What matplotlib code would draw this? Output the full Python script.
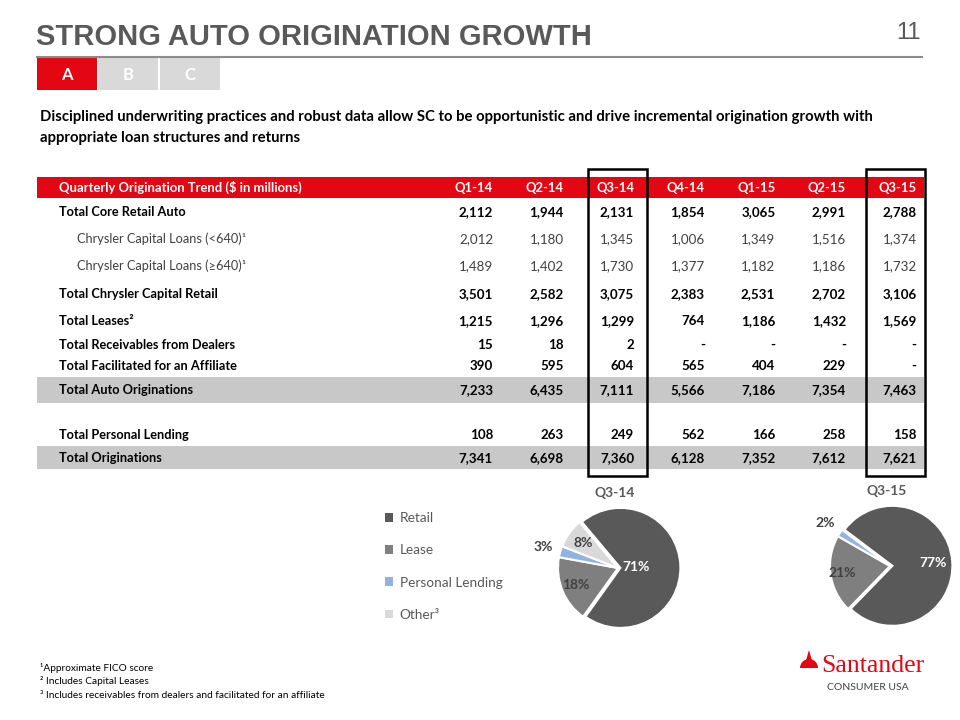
import matplotlib
matplotlib.use("Agg")
import numpy as np
import matplotlib.pyplot as plt
from matplotlib.patches import Rectangle, Patch, Wedge, Polygon

# ------------------- Dados -------------------
quarters = ["Q1-14", "Q2-14", "Q3-14", "Q4-14", "Q1-15", "Q2-15", "Q3-15"]
row_labels = ["Total Core Retail Auto",
              "Chrysler Capital Loans (<640)¹",
              "Chrysler Capital Loans (≥640)¹",
              "Total Chrysler Capital Retail",
              "Total Leases²",
              "Total Receivables from Dealers",
              "Total Facilitated for an Affiliate",
              "Total Auto Originations",
              "Total Personal Lending",
              "Total Originations"]
core_retail = ["2,112", "1,944", "2,131", "1,854", "3,065", "2,991", "2,788"]
chrysler_lt640 = ["2,012", "1,180", "1,345", "1,006", "1,349", "1,516", "1,374"]
chrysler_ge640 = ["1,489", "1,402", "1,730", "1,377", "1,182", "1,186", "1,732"]
chrysler_total = ["3,501", "2,582", "3,075", "2,383", "2,531", "2,702", "3,106"]
leases = ["1,215", "1,296", "1,299", "764", "1,186", "1,432", "1,569"]
receivables = ["15", "18", "2", "-", "-", "-", "-"]
facilitated = ["390", "595", "604", "565", "404", "229", "-"]
auto_total = ["7,233", "6,435", "7,111", "5,566", "7,186", "7,354", "7,463"]
personal = ["108", "263", "249", "562", "166", "258", "158"]
orig_total = ["7,341", "6,698", "7,360", "6,128", "7,352", "7,612", "7,621"]
row_values = [core_retail, chrysler_lt640, chrysler_ge640, chrysler_total, leases,
              receivables, facilitated, auto_total, personal, orig_total]

pie_labels = ["Retail", "Lease", "Personal Lending", "Other³"]
pie_q314 = [71, 18, 3, 8]
pie_q315 = [77, 21, 2, 0]

# ------------------- Estilo -------------------
VERMELHO = "#E30613"
CINZA_TITULO = "#595959"
CINZA_FAIXA = "#C8C8C8"
cores_pie = ["#595959", "#7F7F7F", "#8EB4E3", "#D9D9D9"]
fonte = ["Lato", "DejaVu Sans"]
fonte_titulo = ["Liberation Sans", "DejaVu Sans"]

fig = plt.figure(figsize=(9.6, 7.2), dpi=100)
ax = fig.add_axes([0, 0, 1, 1])
ax.set_xlim(0, 960)
ax.set_ylim(720, 0)
ax.axis("off")

# ------------------- Cabeçalho -------------------
ax.text(36, 37, "STRONG AUTO ORIGINATION GROWTH", family=fonte_titulo, fontweight="bold",
        fontsize=21, color=CINZA_TITULO, va="center", ha="left")
ax.text(921, 33, "11", family=fonte_titulo, fontsize=17, color=CINZA_TITULO, va="center", ha="right")
ax.plot([37, 922], [57, 57], color="#8C8C8C", lw=1.5)

tabs = [("A", 37, VERMELHO), ("B", 98, "#D9D9D9"), ("C", 160, "#D9D9D9")]
for letra, x0, cor in tabs:
    ax.add_patch(Rectangle((x0, 58), 60, 32, facecolor=cor, edgecolor="none"))
    ax.text(x0 + 30, 74.5, letra, family=fonte, fontweight="bold", fontsize=12, color="white",
            ha="center", va="center")

ax.text(40, 117, "Disciplined underwriting practices and robust data allow SC to be opportunistic and drive "
        "incremental origination growth with", family=fonte, fontweight="bold", fontsize=10.75,
        color="black", ha="left", va="center")
ax.text(40, 138, "appropriate loan structures and returns", family=fonte, fontweight="bold",
        fontsize=10.75, color="black", ha="left", va="center")

# ------------------- Tabela -------------------
x_esq, x_dir = 37, 924
col_x = [493 + i * 70.6 for i in range(len(quarters))]
row_y = [212, 239, 266, 294, 321, 345, 366, 390, 435, 458]
bold_rows = [True, False, False, True, True, True, True, True, True, True]
faixas = {7: (377, 26), 9: (446, 23)}

ax.add_patch(Rectangle((x_esq, 177), x_dir - x_esq, 21, facecolor=VERMELHO, edgecolor="none"))
ax.text(59, 187.5, "Quarterly Origination Trend ($ in millions)", family=fonte, fontweight="bold",
        fontsize=9.4, color="white", ha="left", va="center")
for q, x in zip(quarters, col_x):
    ax.text(x, 187.5, q, family=fonte, fontweight="bold", fontsize=9.4, color="white",
            ha="right", va="center")

for i, (rotulo, valores, y) in enumerate(zip(row_labels, row_values, row_y)):
    if i in faixas:
        y0, h = faixas[i]
        ax.add_patch(Rectangle((x_esq, y0), x_dir - x_esq, h, facecolor=CINZA_FAIXA, edgecolor="none"))
    peso = "bold" if bold_rows[i] else "normal"
    cor = "black" if bold_rows[i] else "#404040"
    x_rot = 59 if bold_rows[i] else 77
    ax.text(x_rot, y, rotulo, family=fonte, fontweight=peso, fontsize=9.2, color=cor,
            ha="left", va="center")
    for v, x in zip(valores, col_x):
        ax.text(x, y, v, family=fonte, fontweight=peso, fontsize=9.6, color=cor,
                ha="right", va="center")

# caixas de destaque Q3-14 e Q3-15
for x0, x1 in [(588, 647), (866, 925)]:
    ax.add_patch(Rectangle((x0, 169), x1 - x0, 307, facecolor="none", edgecolor="black", lw=1.8))

# ------------------- Pizzas -------------------
def desenha_pizza(cx, cy, raio, valores, titulo, start, dist, cores_txt):
    lado = raio * 2.3
    pax = fig.add_axes([(cx - lado / 2) / 960, 1 - (cy + lado / 2) / 720, lado / 960, lado / 720])
    vals = [v for v in valores if v > 0]
    cores = [c for v, c in zip(valores, cores_pie) if v > 0]
    explode = [0.04] + [0] * (len(vals) - 1)
    wedges, _ = pax.pie(vals, colors=cores, startangle=start, counterclock=False, explode=explode,
                        wedgeprops=dict(edgecolor="white", linewidth=1.5))
    for w, v, d, ct in zip(wedges, vals, dist, cores_txt):
        ang = np.deg2rad((w.theta1 + w.theta2) / 2)
        pax.text(d * np.cos(ang), d * np.sin(ang), f"{v}%", family=fonte, fontweight="bold",
                 fontsize=10, color=ct, ha="center", va="center")
    pax.set_xlim(-1.15, 1.15)
    pax.set_ylim(-1.15, 1.15)
    pax.set_aspect("equal")
    pax.axis("off")
    ax.text(cx - 3, cy - 75, titulo, family=fonte, fontweight="bold", fontsize=10,
            color=CINZA_TITULO, ha="center", va="center")

desenha_pizza(618, 568, 60, pie_q314, "Q3-14", 130, [0.3, 0.75, 1.3, 0.72],
              ["white", "#404040", "#404040", "#404040"])
desenha_pizza(890, 566, 60, pie_q315, "Q3-15", 143, [0.72, 0.8, 1.3],
              ["white", "#404040", "#404040"])

handles = [Patch(facecolor=c, edgecolor="none") for c in cores_pie]
leg = ax.legend(handles, pie_labels, loc="upper left", bbox_to_anchor=(373 / 960, 1 - 500 / 720),
                frameon=False, handlelength=0.6, handleheight=0.6, handletextpad=0.45,
                labelspacing=1.48, prop=dict(family=fonte, size=9.8))
for t in leg.get_texts():
    t.set_color(CINZA_TITULO)

# ------------------- Rodapé -------------------
notas = ["¹Approximate FICO score", "² Includes Capital Leases",
         "³ Includes receivables from dealers and facilitated for an affiliate"]
for k, nota in enumerate(notas):
    ax.text(40, 668 + k * 13.5, nota, family=fonte, fontsize=7.3, color="black", ha="left", va="center")

# logo Santander
ax.add_patch(Wedge((809, 668), 9, 180, 360, facecolor=VERMELHO, edgecolor="none"))
ax.add_patch(Polygon([[805, 664], [809, 650], [813, 664]], closed=True, facecolor=VERMELHO,
                     edgecolor="none"))
ax.text(821, 666, "Santander", family=["Liberation Serif", "DejaVu Serif"], fontsize=18.5,
        color=VERMELHO, ha="left", va="center")
ax.text(868, 688, "CONSUMER USA", family=fonte, fontsize=7.5, color="#404040", ha="center", va="center")

fig.savefig("out.png", dpi=100)
